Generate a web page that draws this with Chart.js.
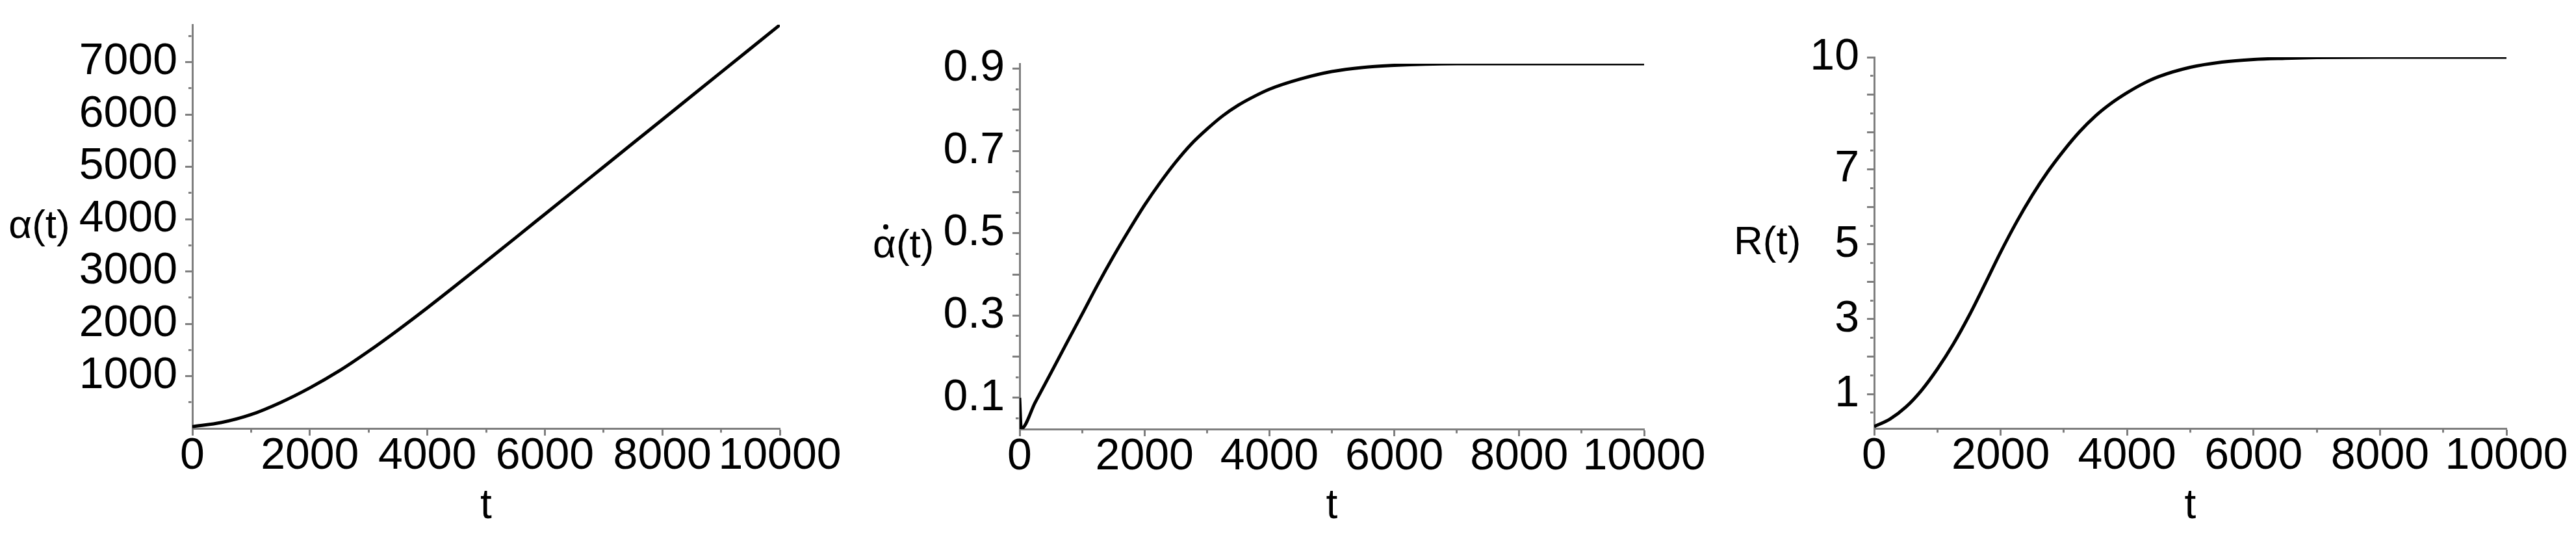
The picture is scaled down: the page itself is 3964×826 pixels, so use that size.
<!DOCTYPE html>
<html>
<head>
<meta charset="utf-8">
<script src="https://cdn.jsdelivr.net/npm/chart.js@4.4.1/dist/chart.umd.min.js"></script>
<style>
  html, body { margin: 0; padding: 0; background: #fff; }
  body { width: 3964px; height: 826px; position: relative; overflow: hidden; }
  .panel { position: absolute; top: 0; height: 826px; }
</style>
</head>
<body>
<div class="panel" style="left:0;width:1320px"><canvas id="c-alpha"></canvas></div>
<div class="panel" style="left:1320px;width:1320px"><canvas id="c-alphadot"></canvas></div>
<div class="panel" style="left:2640px;width:1324px"><canvas id="c-r"></canvas></div>
<script>
// t values and curves
const tAlpha = [0, 500, 1000, 1500, 2000, 2500, 3000, 3500, 4000, 4500, 5000,
  5500, 6000, 6500, 7000, 7500, 8000, 8500, 9000, 9500, 10000];
const alphaValues = [35, 115, 265, 495, 775, 1100, 1475, 1880, 2305, 2745, 3192,
  3642, 4094, 4546, 4998, 5450, 5902, 6354, 6806, 7258, 7710];

const tAlphaDot = [0, 25, 250, 500, 750, 1000, 1250, 1500, 1750, 2000, 2250, 2500, 2750,
  3000, 3250, 3500, 3750, 4000, 4500, 5000, 5500, 6000, 6500, 7000, 8000, 9000, 10000];
const alphaDotValues = [0.1, 0.025, 0.089, 0.16, 0.232, 0.303, 0.375, 0.443, 0.507, 0.568, 0.623, 0.673, 0.717,
  0.753, 0.785, 0.811, 0.832, 0.85, 0.875, 0.893, 0.903, 0.908, 0.911, 0.912, 0.912, 0.912, 0.912];

const tR = [0, 250, 500, 750, 1000, 1250, 1500, 1750, 2000, 2250, 2500, 2750, 3000,
  3250, 3500, 3750, 4000, 4250, 4500, 5000, 5500, 6000, 6500, 7000, 8000, 9000, 10000];
const rValues = [0.13, 0.33, 0.65, 1.1, 1.67, 2.33, 3.09, 3.93, 4.79, 5.59, 6.31, 6.95, 7.51,
  8.01, 8.43, 8.77, 9.05, 9.29, 9.48, 9.73, 9.87, 9.94, 9.97, 9.99, 10, 10, 10];

// tick labels
const xTickLabels = [0, 2000, 4000, 6000, 8000, 10000];
const alphaTickLabels = [1000, 2000, 3000, 4000, 5000, 6000, 7000];
const alphaDotTickLabels = [0.1, 0.3, 0.5, 0.7, 0.9];
const rTickLabels = [1, 3, 5, 7, 10];

const FONT = "'Liberation Sans', Arial, Helvetica, sans-serif";
const GREY = '#7f7f7f';

const isMult = (v, step) => Math.abs(v / step - Math.round(v / step)) < 1e-6;
const inList = (v, list) => list.some((l) => Math.abs(l - v) < 1e-6);

function tickRange(min, max, step) {
  const out = [];
  for (let k = Math.ceil(min / step - 1e-9); k * step <= max + 1e-9; k++) {
    out.push(+(k * step).toFixed(6));
  }
  return out;
}

// horizontal y-axis title, set just left of the tick labels
const yTitlePlugin = {
  id: 'yTitle',
  afterDraw(chart, args, opts) {
    const { ctx, chartArea } = chart;
    const y = chart.scales.y;
    ctx.save();
    ctx.font = `68px ${FONT}`;
    let w = 0;
    y.ticks.forEach((t) => {
      if (t.label) w = Math.max(w, ctx.measureText(t.label).width);
    });
    const right = y.right - 11 - 12 - w - 14;
    const mid = (chartArea.top + chartArea.bottom) / 2;
    ctx.font = `62px ${FONT}`;
    ctx.fillStyle = '#000';
    ctx.textAlign = 'right';
    ctx.textBaseline = 'middle';
    ctx.fillText(opts.text, right, mid);
    if (opts.dot) {
      const left = right - ctx.measureText(opts.text).width;
      const aw = ctx.measureText(opts.text[0]).width;
      ctx.beginPath();
      ctx.arc(left + aw / 2 + 2, mid - 30, 4, 0, Math.PI * 2);
      ctx.fill();
    }
    ctx.restore();
  },
};

function makeChart(id, tVals, yVals, cfg) {
  const xAxis = {
    type: 'linear',
    min: 0,
    max: 10000,
    ticks: {
      autoSkip: false,
      maxRotation: 0,
      padding: 2,
      color: '#000',
      font: { family: FONT, size: 68, lineHeight: 0.9 },
      callback: (v) => (inList(v, xTickLabels) ? String(v) : ''),
    },
    grid: {
      drawOnChartArea: false,
      tickLength: 11,
      tickWidth: 3,
      tickColor: GREY,
      tickBorderDash: (c) => (isMult(c.tick.value, 2000) ? [] : [4.5, 10]),
    },
    border: { display: true, color: GREY, width: 3 },
    title: {
      display: true,
      text: 't',
      color: '#000',
      font: { family: FONT, size: 64 },
      padding: { top: 0, bottom: 8 },
    },
    afterBuildTicks: (s) => {
      s.ticks = tickRange(0, 10000, 1000).map((v) => ({ value: v }));
    },
    afterFit: (s) => {
      s.height = cfg.xHeight;
      s.paddingLeft = 0;
      s.paddingRight = 0;
    },
  };

  const yAxis = {
    type: 'linear',
    min: cfg.yMin,
    max: cfg.yMax,
    ticks: {
      autoSkip: false,
      padding: 12,
      color: '#000',
      font: { family: FONT, size: 68 },
      callback: (v) => (inList(v, cfg.labels) ? cfg.fmt(v) : ''),
    },
    grid: {
      drawOnChartArea: false,
      tickLength: 11,
      tickWidth: 3,
      tickColor: GREY,
      tickBorderDash: (c) => (isMult(c.tick.value, cfg.major) ? [] : [4.5, 5]),
      tickBorderDashOffset: (c) => (isMult(c.tick.value, cfg.major) ? 0 : 4.5),
    },
    border: { display: true, color: GREY, width: 3 },
    afterBuildTicks: (s) => {
      s.ticks = tickRange(cfg.yMin, cfg.yMax, cfg.step)
        .filter((v) => v > cfg.yMin + 1e-9)
        .map((v) => ({ value: v }));
    },
    afterFit: (s) => {
      s.width = 200;
      s.paddingTop = 0;
      s.paddingBottom = 0;
    },
  };

  return new Chart(document.getElementById(id), {
    type: 'line',
    data: {
      datasets: [
        {
          data: tVals.map((t, i) => ({ x: t, y: yVals[i] })),
          borderColor: '#000',
          borderWidth: 5,
          pointRadius: 0,
          cubicInterpolationMode: 'monotone',
          fill: false,
        },
      ],
    },
    options: {
      responsive: true,
      maintainAspectRatio: false,
      animation: false,
      devicePixelRatio: 1,
      layout: { padding: cfg.padding },
      plugins: {
        legend: { display: false },
        tooltip: { enabled: false },
        yTitle: { text: cfg.title, dot: cfg.dot },
      },
      scales: { x: xAxis, y: yAxis },
    },
    plugins: [yTitlePlugin],
  });
}

makeChart('c-alpha', tAlpha, alphaValues, {
  title: 'α(t)',
  yMin: 0, yMax: 7715, step: 500, major: 1000,
  labels: alphaTickLabels, fmt: (v) => String(v),
  padding: { left: 96, right: 120, top: 38, bottom: 0 },
  xHeight: 167,
});

makeChart('c-alphadot', tAlphaDot, alphaDotValues, {
  title: 'α(t)', dot: true,
  yMin: 0.024, yMax: 0.912, step: 0.05, major: 0.1,
  labels: alphaDotTickLabels, fmt: (v) => v.toFixed(1),
  padding: { left: 49, right: 110, top: 98, bottom: 0 },
  xHeight: 166,
});

makeChart('c-r', tR, rValues, {
  title: 'R(t)',
  yMin: 0.08, yMax: 10, step: 0.5, major: 1,
  labels: rTickLabels, fmt: (v) => String(Math.round(v)),
  padding: { left: 44, right: 107, top: 88, bottom: 0 },
  xHeight: 167,
});
</script>
</body>
</html>
